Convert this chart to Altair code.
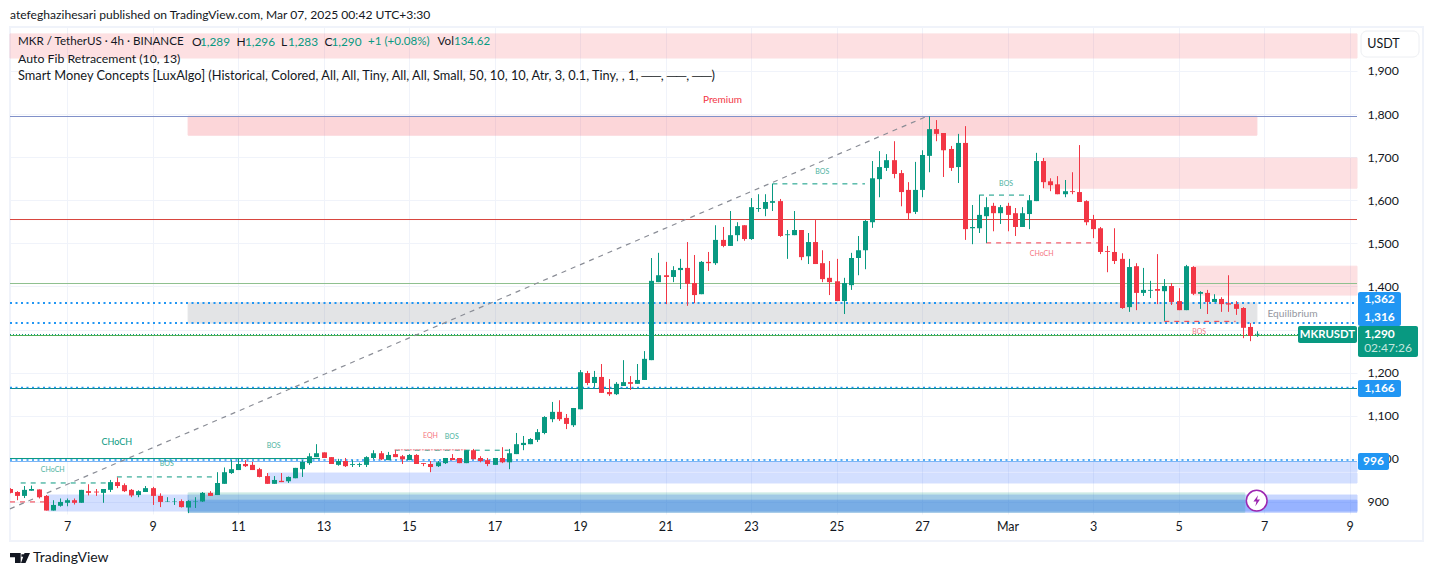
import altair as alt
import pandas as pd

# Candle data (4h candles): open, high, low, close. First candle index = -8, tick "7" at index 0
FIRST = -8
feb_a = [(930,932,920,921),(923,925,904,914),(914,937,909,928),(926,938,926,930),(929,929,908,911),(914,916,880,880),(880,904,880,893),(891,908,889,900),
 (898,908,890,904),(904,908,894,898),(898,928,898,928),(925,941,915,921),(924,930,914,922),(921,930,898,930),(928,951,923,946),(946,957,932,937),(939,943,923,925),(928,930,911,915),
 (916,927,911,925),(923,937,923,932),(932,935,893,914),(914,920,888,900),(901,911,900,902),(901,909,893,902),(902,906,887,888),(887,904,874,902),(901,911,886,902),(901,923,900,921),
 (921,925,914,914),(916,969,916,944),(942,980,942,969),(967,997,965,976),(974,1000,974,988),(988,997,981,983),(986,993,974,974),(976,979,957,958),(960,967,942,942),(942,960,942,951),
 (949,967,946,946),(948,959,944,958),(955,979,955,979),(976,997,958,993),(990,1013,986,1006),(1004,1034,1004,1013),(1015,1015,1002,1002),(1004,1004,988,988),(986,1000,984,995)]
feb_b = [(995,1002,981,983),(986,997,981,988),(986,991,981,988),(986,1006,981,1004),(1002,1020,999,1013),(1013,1018,997,999),(997,1016,997,1009),(1011,1020,1004,1004),(1006,1009,988,999),
 (997,1011,997,1009),(1009,1011,988,988),(990,990,983,988),(988,995,969,981),(983,995,981,992),(990,1002,988,1002),(1002,1011,997,997),(1002,1002,990,990),(990,1020,990,1020),(1020,1023,999,999),
 (1002,1006,992,995),(997,1002,983,988),(986,1002,986,1002),(1002,1027,990,992),(992,1023,976,1013),(1011,1060,1011,1034),(1032,1053,1020,1037),(1034,1048,1034,1046),(1044,1069,1039,1062),
 (1060,1099,1057,1097),(1092,1132,1085,1109),(1109,1136,1088,1092),(1095,1104,1069,1081),(1078,1118,1074,1118),(1115,1206,1115,1201),(1199,1204,1171,1176),(1176,1204,1167,1190),(1190,1220,1153,1153),
 (1155,1185,1146,1150),(1150,1178,1148,1174),(1169,1229,1169,1178),(1178,1192,1160,1174),(1174,1220,1174,1183),(1183,1250,1183,1232)]
feb_c = [(1229,1466,1229,1413),(1410,1478,1410,1426),(1426,1457,1359,1422),(1422,1447,1410,1438),(1438,1464,1394,1443),(1443,1503,1355,1406),(1408,1473,1361,1380),(1382,1459,1382,1457),(1457,1480,1436,1454),
 (1454,1542,1450,1508),(1508,1538,1491,1494),(1494,1575,1494,1519),(1519,1549,1505,1540),(1542,1542,1506,1510),(1510,1605,1508,1584),(1580,1614,1573,1582),(1580,1614,1563,1596),(1594,1638,1575,1598),
 (1598,1603,1515,1517),(1519,1531,1464,1521),(1519,1575,1519,1531),(1531,1531,1461,1468),(1470,1524,1452,1503),(1503,1554,1452,1452),(1454,1484,1410,1417),(1420,1459,1380,1410),(1412,1464,1366,1366),
 (1366,1420,1336,1408),(1403,1478,1392,1466),(1466,1517,1426,1484),(1484,1554,1440,1552),(1549,1691,1536,1651),(1649,1714,1607,1677),(1675,1707,1668,1693),(1693,1737,1651,1661),(1663,1670,1586,1619),
 (1624,1642,1556,1570),(1573,1689,1568,1624),(1624,1716,1607,1705),(1703,1795,1665,1765),(1765,1786,1737,1754),(1756,1756,1654,1716),(1719,1726,1668,1675),(1677,1754,1640,1733),(1733,1772,1508,1533)]
mar = [(1535,1589,1498,1538),(1535,1612,1524,1566),(1563,1607,1501,1584),(1587,1594,1528,1570),(1570,1589,1545,1584),(1587,1594,1528,1566),(1570,1582,1517,1538),(1538,1584,1538,1570),(1568,1612,1533,1600),
 (1598,1710,1598,1691),(1691,1698,1628,1642),(1644,1651,1621,1635),(1637,1656,1614,1614),(1614,1647,1607,1621),(1621,1665,1614,1619),(1619,1728,1596,1596),(1598,1600,1542,1549),(1556,1566,1512,1533),
 (1535,1538,1475,1480),(1482,1494,1433,1480),(1480,1535,1452,1459),(1464,1477,1348,1350),(1352,1464,1341,1445),(1447,1454,1345,1385),(1385,1443,1378,1392),(1390,1413,1373,1392),(1394,1475,1359,1390),
 (1389,1417,1320,1401),(1401,1408,1357,1364),(1366,1396,1345,1345),(1345,1450,1345,1447),(1445,1447,1380,1383),(1383,1389,1348,1387),(1385,1392,1336,1364),(1364,1382,1364,1371),(1371,1375,1341,1359),
 (1361,1426,1341,1358),(1359,1366,1334,1348),(1350,1352,1280,1304),(1306,1315,1273,1285),(1289,1296,1283,1290)]
opens, highs, lows, closes = [list(v) for v in zip(*(feb_a + feb_b + feb_c + mar))]

y_ticks = [900,1000,1100,1200,1300,1400,1500,1600,1700,1800,1900]
x_ticks = [0,12,24,36,48,60,72,84,96,108,120,132,144,156,168,180]
x_labels = ["7","9","11","13","15","17","19","21","23","25","27","Mar","3","5","7","9"]

# Zones: start index, end index, top price, bottom price, colour, opacity
zone_x0 = [-8, 17, 17, 137, 158, -2.7, 17, 17, 17, 28.2, 51]
zone_x1 = [181.05, 167, 167, 181.05, 181.05, 17, 181.05, 181.05, 165.3, 181.05, 181.05]
zone_hi = [1986, 1795, 1362, 1698, 1447, 916, 916, 904, 921, 967, 993]
zone_lo = [1930, 1751, 1315, 1628, 1380, 879, 879, 876, 876, 944, 970]
zone_col = ["#f23645","#f23645","#787b86","#f23645","#f23645","#2962ff","#2962ff","#2962ff","#089981","#2962ff","#2962ff"]
zone_op = [.15,.2,.2,.15,.15,.2,.25,.3,.2,.2,.2]

# Horizontal lines: price, start, end, colour, dash, width
line_p = [1794.3,1555.3,1406.8,1286.2,1288.5,1361.6,1315.2,1163.2,1165.5,1000.8,993.8,997.3,944,958,1020,1021,1638,1612,1501,1319,900]
line_a = [-8,-8,-8,-8,-8,-8,-8,-8,-8,-8,-8,-8,-6.5,7,46,46,99,128,129,154,-8]
line_b = [181.05,181.05,181.05,181.05,181.05,181.05,181.05,181.05,181.05,35.5,181.05,181.05,6,21,62,56,112,135,145,164,-3]
line_c = ["#8191c9","#d8443c","#8fc08f","#4caf50","#089981","#2196f3","#2196f3","#0e8a8a","#2196f3","#089981","#7db5f5","#2196f3","#089981","#089981","#089981","#f7a0a8","#089981","#089981","#f23645","#f23645","#f23645"]
line_d = [None,None,None,None,[1,2],[2,3.5],[2,3.5],None,[2,3.5],None,None,[2,3.5],[5,5],[5,5],[5,5],[2,1],[5,5],[5,5],[5,5],[5,5],[5,5]]
line_w = [1,1,1,1,1,2,2,1,1.5,1,1,1.5,1,1,1,1.5,1,1,1,1,1]

# Structure labels
note_x = [7,-2,14,29,51,54,106,131.8,136.8,158.9,172,92]
note_p = [1039,974,988,1030,1053,1050,1665,1638,1475,1294,1336,1832]
note_t = ["CHoCH","CHoCH","BOS","BOS","EQH","BOS","BOS","BOS","CHoCH","BOS","Equilibrium","Premium"]
note_c = ["#089981","#089981","#089981","#089981","#f23645","#089981","#089981","#089981","#f23645","#f23645","#9598a1","#f23645"]
note_s = [9,7,7,7,7,7,7,7,7,7,10.2,10]
note_o = [1,.75,.75,.75,.7,.75,.75,.75,.7,.65,1,1]

FONT = "Lato"
X0, Y0 = 10, 27
W, H = 1347, 487
DOM = [-8, 181.05]
GREEN, RED, BLUE, INK = "#089981", "#f23645", "#2196f3", "#131722"

n = len(opens)
idx = list(range(FIRST, FIRST + n))
per_px = (DOM[1] - DOM[0]) / W
candles = pd.DataFrame({"i": [(round((i - DOM[0]) / per_px) + 0.5) * per_px + DOM[0] for i in idx],
                        "o": opens, "h": highs, "l": lows, "c": closes})
candles["col"] = [GREEN if c >= o else RED for o, c in zip(opens, closes)]

xs = alt.Scale(domain=DOM, nice=False, zero=False, padding=0)
ys = alt.Scale(domain=[872, 2002], nice=False, zero=False, padding=0)
one = pd.DataFrame({"a": [0]})
X = lambda f: alt.X(f, type="quantitative", scale=xs)
Y = lambda f: alt.Y(f, type="quantitative", scale=ys)

label_expr = "[" + ",".join(f"'{s}'" for s in x_labels) + "][datum.value/12]"
axes = alt.Chart(one).mark_point(opacity=0).encode(
    x=alt.X("a:Q", scale=xs, title=None, axis=alt.Axis(values=x_ticks, labelExpr=label_expr, grid=True, gridColor="#f0f3fa",
            domain=False, ticks=False, labelFont=FONT, labelFontSize=12.5, labelColor=INK, labelPadding=6, labelFlush=False, labelOverlap=False)),
    y=alt.Y("a:Q", scale=ys, title=None, axis=alt.Axis(orient="right", values=y_ticks, labelExpr="format(datum.value, ',')", grid=True, gridColor="#f0f3fa",
            domain=False, ticks=False, labelFont=FONT, labelFontSize=12.3, labelColor=INK, labelPadding=10, labelOverlap=False)),
)


def box(x0, y0, x1, y1, fill, **kw):
    return alt.Chart(one).mark_rect(fill=fill, **kw).encode(
        x=alt.value(x0 - X0), x2=alt.value(x1 - X0), y=alt.value(y0 - Y0), y2=alt.value(y1 - Y0))


def txt(x, y, s, color=INK, size=12.5, align="left", **kw):
    return alt.Chart(one).mark_text(text=s, color=color, fontSize=size, align=align, baseline="middle", font=FONT, **kw).encode(
        x=alt.value(x - X0), y=alt.value(y - Y0))


zones = pd.DataFrame({"a": zone_x0, "b": zone_x1, "hi": zone_hi, "lo": zone_lo, "col": zone_col, "op": zone_op})
zone_layer = alt.Chart(zones).mark_rect(strokeWidth=1).encode(
    x=X("a"), x2="b", y=Y("hi"), y2="lo",
    fill=alt.Fill("col:N", scale=None), stroke=alt.Stroke("col:N", scale=None), opacity=alt.Opacity("op:Q", scale=None))

line_layers = []
for p, a, b, c, d, w in zip(line_p, line_a, line_b, line_c, line_d, line_w):
    kw = {"strokeDash": d} if d else {}
    line_layers.append(alt.Chart(pd.DataFrame({"a": [a], "b": [b], "p": [p]})).mark_rule(color=c, strokeWidth=w, **kw).encode(
        x=X("a"), x2="b", y=Y("p")))

fib = alt.Chart(pd.DataFrame({"a": [-8], "b": [121], "p": [884], "q": [1797]})).mark_rule(
    color="#8a8d96", strokeWidth=1.2, strokeDash=[5, 5]).encode(x=X("a"), x2="b", y=Y("p"), y2="q")

wicks = alt.Chart(candles).mark_rule(strokeWidth=1, clip=True).encode(
    x=X("i"), y=Y("l"), y2="h", color=alt.Color("col:N", scale=None))
bodies = alt.Chart(candles).mark_bar(size=5, clip=True).encode(
    x=X("i"), y=Y("o"), y2="c", color=alt.Color("col:N", scale=None))

notes = pd.DataFrame({"x": note_x, "p": note_p, "t": note_t, "c": note_c, "s": note_s, "o": note_o})
note_layer = alt.Chart(notes).mark_text(font=FONT, baseline="middle").encode(
    x=X("x"), y=Y("p"), text="t:N", color=alt.Color("c:N", scale=None),
    size=alt.Size("s:Q", scale=None), opacity=alt.Opacity("o:Q", scale=None))

frame = box(10, 27, 1423, 541, "white", fillOpacity=0, stroke="#f0f3fa", strokeWidth=2)

header = [
    txt(10, 15, "atefeghazihesari published on TradingView.com, Mar 07, 2025 00:42 UTC+3:30", size=12.1),
    txt(18, 42, "MKR / TetherUS · 4h · BINANCE", size=11.6),
    txt(192, 42, "O", size=12), txt(200, 42, "1,289", GREEN, size=11.8),
    txt(236.5, 42, "H", size=12), txt(245, 42, "1,296", GREEN, size=11.8),
    txt(281, 42, "L", size=12), txt(288, 42, "1,283", GREEN, size=11.8),
    txt(324.5, 42, "C", size=12), txt(331.5, 42, "1,290", GREEN, size=11.8),
    txt(368, 42, "+1 (+0.08%)", GREEN, size=11.6),
    txt(437.6, 42, "Vol", size=11.6), txt(454, 42, "134.62", GREEN, size=11.5),
    txt(18, 59, "Auto Fib Retracement (10, 13)", size=12.3),
    txt(18, 76, "Smart Money Concepts [LuxAlgo] (Historical, Colored, All, All, Tiny, All, All, Small, 50, 10, 10, Atr, 3, 0.1, Tiny, , 1, ──, ──, ──)", size=12.8),
]

tags = [
    box(1361, 31, 1419, 57, "white", stroke="#eceef2", strokeWidth=1, cornerRadius=6),
    txt(1383.5, 44, "USDT", align="center"),
    box(1358, 292, 1401, 326, BLUE, cornerRadius=2),
    txt(1379.5, 299, "1,362", "white", size=12, align="center", fontWeight=700),
    txt(1379.5, 317, "1,316", "white", size=12, align="center", fontWeight=700),
    box(1298, 326, 1357, 343, GREEN, cornerRadius=2),
    txt(1327.5, 335, "MKRUSDT", "white", size=11.3, align="center", fontWeight=700),
    box(1358, 326, 1418, 357, GREEN, cornerRadius=2),
    txt(1379.5, 334, "1,290", "white", size=12, align="center", fontWeight=700),
    txt(1388, 348, "02:47:26", "#c4e6df", size=12, align="center"),
    box(1358, 380, 1401, 397, BLUE, cornerRadius=2),
    txt(1379.5, 388, "1,166", "white", size=12, align="center", fontWeight=700),
    box(1358, 453, 1389, 470, BLUE, cornerRadius=2),
    txt(1373.5, 461, "996", "white", size=12, align="center", fontWeight=700),
]

LOGO = "M-1,-.5L.07,-.5L.07,.5L-.5,.5L-.5,-.07L-1,-.07Z M.14,-.38L.4,-.38L.4,-.12L.14,-.12Z M.45,-.5L1,-.5L.55,.5L.1,.5Z"
BOLT = "M.25,-1L-.6,.15L-.05,.15L-.25,1L.6,-.2L.05,-.2Z"
extras = [
    alt.Chart(one).mark_point(shape=LOGO, filled=True, color=INK, size=400, opacity=1).encode(x=alt.value(20 - X0), y=alt.value(558 - Y0)),
    txt(33, 558, "TradingView", size=14),
    alt.Chart(one).mark_point(shape="circle", filled=True, fill="white", stroke="#9c27b0", strokeWidth=1.5, size=430, opacity=1).encode(
        x=alt.value(1256.7 - X0), y=alt.value(500.7 - Y0)),
    alt.Chart(one).mark_point(shape=BOLT, filled=True, color="#9c27b0", size=120, opacity=1).encode(
        x=alt.value(1256.7 - X0), y=alt.value(500.7 - Y0)),
]

chart = alt.layer(
    axes, frame, zone_layer, *line_layers, fib, wicks, bodies, note_layer, *header, *tags, *extras
).properties(
    width=W, height=H,
    padding={"left": 2, "top": 19, "right": 68, "bottom": 50},
    autosize=alt.AutoSizeParams(type="none"),
    background="white",
).configure_view(stroke=None)

chart.save("out.html", embed_options={"renderer": "svg", "actions": False})
